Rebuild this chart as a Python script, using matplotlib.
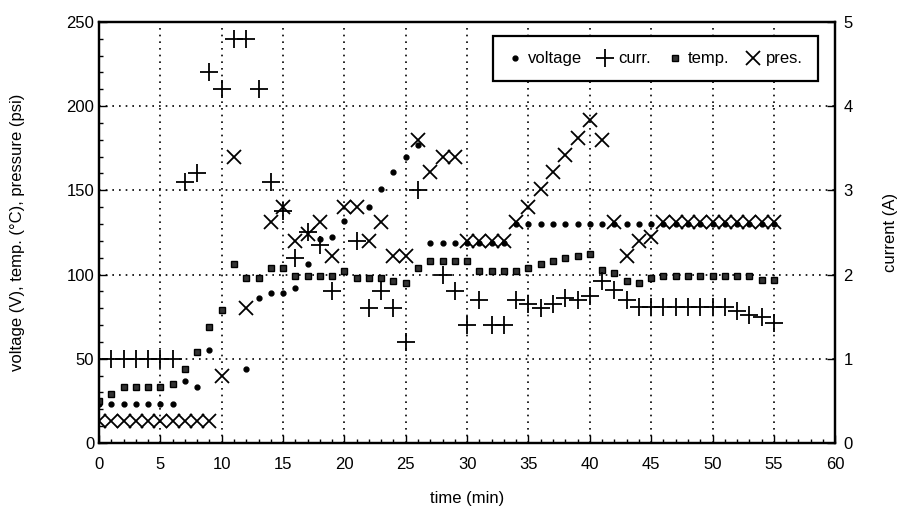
import numpy as np
import matplotlib
matplotlib.use("Agg")
import matplotlib.pyplot as plt
from matplotlib.ticker import MultipleLocator

# Data (time in min)
volt_t = [0, 1, 2, 3, 4, 5, 6, 7, 8, 9, 12, 13, 14, 15, 16, 17, 18, 19, 20,
          22, 23, 24, 25, 26, 27, 28, 29, 30, 31, 32, 33, 34, 35, 36, 37, 38,
          39, 40, 41, 42, 43, 44, 45, 46, 47, 48, 49, 50, 51, 52, 53, 54, 55]
volt = [23, 23, 23, 23, 23, 23, 23, 37, 33, 55, 44, 86, 89, 89, 92, 106, 121,
        122, 132, 140, 151, 161, 170, 177, 119, 119, 119, 119, 119, 119, 119,
        130, 130, 130, 130, 130, 130, 130, 130, 130, 130, 130, 130, 130, 130,
        130, 130, 130, 130, 130, 130, 130, 130]

curr_t = [0, 1, 2, 3, 4, 5, 6, 7, 8, 9, 10, 11, 12, 13, 14, 15, 16, 17, 18,
          19, 21, 22, 23, 24, 25, 26, 28, 29, 30, 31, 32, 33, 34, 35, 36, 37,
          38, 39, 40, 41, 42, 43, 44, 45, 46, 47, 48, 49, 50, 51, 52, 53, 54, 55]
curr = [1.0, 1.0, 1.0, 1.0, 1.0, 1.0, 1.0, 3.1, 3.2, 4.4, 4.2, 4.8, 4.8, 4.2,
        3.1, 2.75, 2.2, 2.5, 2.35, 1.8, 2.4, 1.6, 1.8, 1.6, 1.2, 3.0, 2.0, 1.8,
        1.4, 1.7, 1.4, 1.4, 1.7, 1.65, 1.6, 1.65, 1.72, 1.7, 1.74, 1.92, 1.82,
        1.7, 1.62, 1.62, 1.62, 1.62, 1.62, 1.62, 1.62, 1.62, 1.57, 1.52, 1.5,
        1.42]

temp_t = list(range(0, 56))
temp = [25, 29, 33, 33, 33, 33, 35, 44, 54, 69, 79, 106, 98, 98, 104, 104,
        99, 99, 99, 99, 102, 98, 98, 98, 96, 95, 104, 108, 108, 108, 108, 102,
        102, 102, 102, 104, 106, 108, 110, 111, 112, 103, 101, 96, 95, 98, 99,
        99, 99, 99, 99, 99, 99, 99, 97, 97]

pres_t = [0, 1, 2, 3, 4, 5, 6, 7, 8, 9, 10, 11, 12, 14, 15, 16, 17, 18, 19,
          20, 21, 22, 23, 24, 25, 26, 27, 28, 29, 30, 31, 32, 33, 34, 35, 36,
          37, 38, 39, 40, 41, 42, 43, 44, 45, 46, 47, 48, 49, 50, 51, 52, 53,
          54, 55]
pres = [13, 13, 13, 13, 13, 13, 13, 13, 13, 13, 40, 170, 80, 131, 140, 120,
        124, 131, 111, 140, 140, 120, 131, 111, 111, 180, 161, 170, 170, 120,
        120, 120, 120, 131, 140, 151, 161, 171, 181, 192, 180, 131, 111, 120,
        122, 131, 131, 131, 131, 131, 131, 131, 131, 131, 131]

plt.rcParams['font.family'] = ['Liberation Sans', 'DejaVu Sans']
plt.rcParams['font.size'] = 11

fig = plt.figure(figsize=(9, 5.2), dpi=100)
ax = fig.add_axes([0.11, 0.148, 0.818, 0.81])
ax2 = ax.twinx()

ax.plot(volt_t, volt, 'o', color='black', markersize=3.5, label='voltage')
ax2.plot(curr_t, curr, '+', color='black', markersize=13, markeredgewidth=1.3)
ax.plot(temp_t, temp, 's', color='black', markersize=5, markerfacecolor='#333333',
        label='temp.')
ax.plot(pres_t, pres, 'x', color='black', markersize=10, markeredgewidth=1.3,
        label='pres.')

ax.set_xlim(0, 60)
ax.set_ylim(0, 250)
ax2.set_ylim(0, 5)

ax.xaxis.set_major_locator(MultipleLocator(5))
ax.xaxis.set_minor_locator(MultipleLocator(1))
ax.yaxis.set_major_locator(MultipleLocator(50))
ax.yaxis.set_minor_locator(MultipleLocator(10))
ax2.yaxis.set_major_locator(MultipleLocator(1))
ax2.yaxis.set_minor_locator(MultipleLocator(0.2))

ax.tick_params(which='both', direction='in', top=False, right=False, labelsize=12)
ax.tick_params(which='major', length=6, width=1)
ax.tick_params(which='minor', length=3, width=1)
ax.tick_params(axis='x', which='major', pad=10)
ax2.tick_params(which='both', direction='in', labelsize=12)
ax2.tick_params(which='major', length=6, width=1, pad=6)
ax2.tick_params(which='minor', length=0)

ax.grid(True, which='major', linestyle=(0, (1, 3)), color='black', linewidth=1.2)

for sp in ax.spines.values():
    sp.set_linewidth(1.6)
for sp in ax2.spines.values():
    sp.set_linewidth(1.6)

ax.set_xlabel('time (min)', fontsize=12, labelpad=14)
ax.set_ylabel('voltage (V), temp. (°C), pressure (psi)', fontsize=12, labelpad=30)
ax2.set_ylabel('current (A)', fontsize=12, labelpad=22)

# legend with all four series in one row
handles = [
    plt.Line2D([], [], marker='o', ls='', color='black', markersize=3.5),
    plt.Line2D([], [], marker='+', ls='', color='black', markersize=13,
               markeredgewidth=1.3),
    plt.Line2D([], [], marker='s', ls='', color='black', markersize=5,
               markerfacecolor='#333333'),
    plt.Line2D([], [], marker='x', ls='', color='black', markersize=10,
               markeredgewidth=1.3),
]
leg = ax2.legend(handles, ['voltage', 'curr.', 'temp.', 'pres.'], ncol=4,
                 loc='upper right', bbox_to_anchor=(0.988, 0.985),
                 fancybox=False, edgecolor='black', framealpha=1,
                 handlelength=0.8, handletextpad=0.4, columnspacing=1.0,
                 borderpad=0.9, fontsize=12)
leg.get_frame().set_linewidth(1.6)

fig.savefig('out.png', dpi=100)
